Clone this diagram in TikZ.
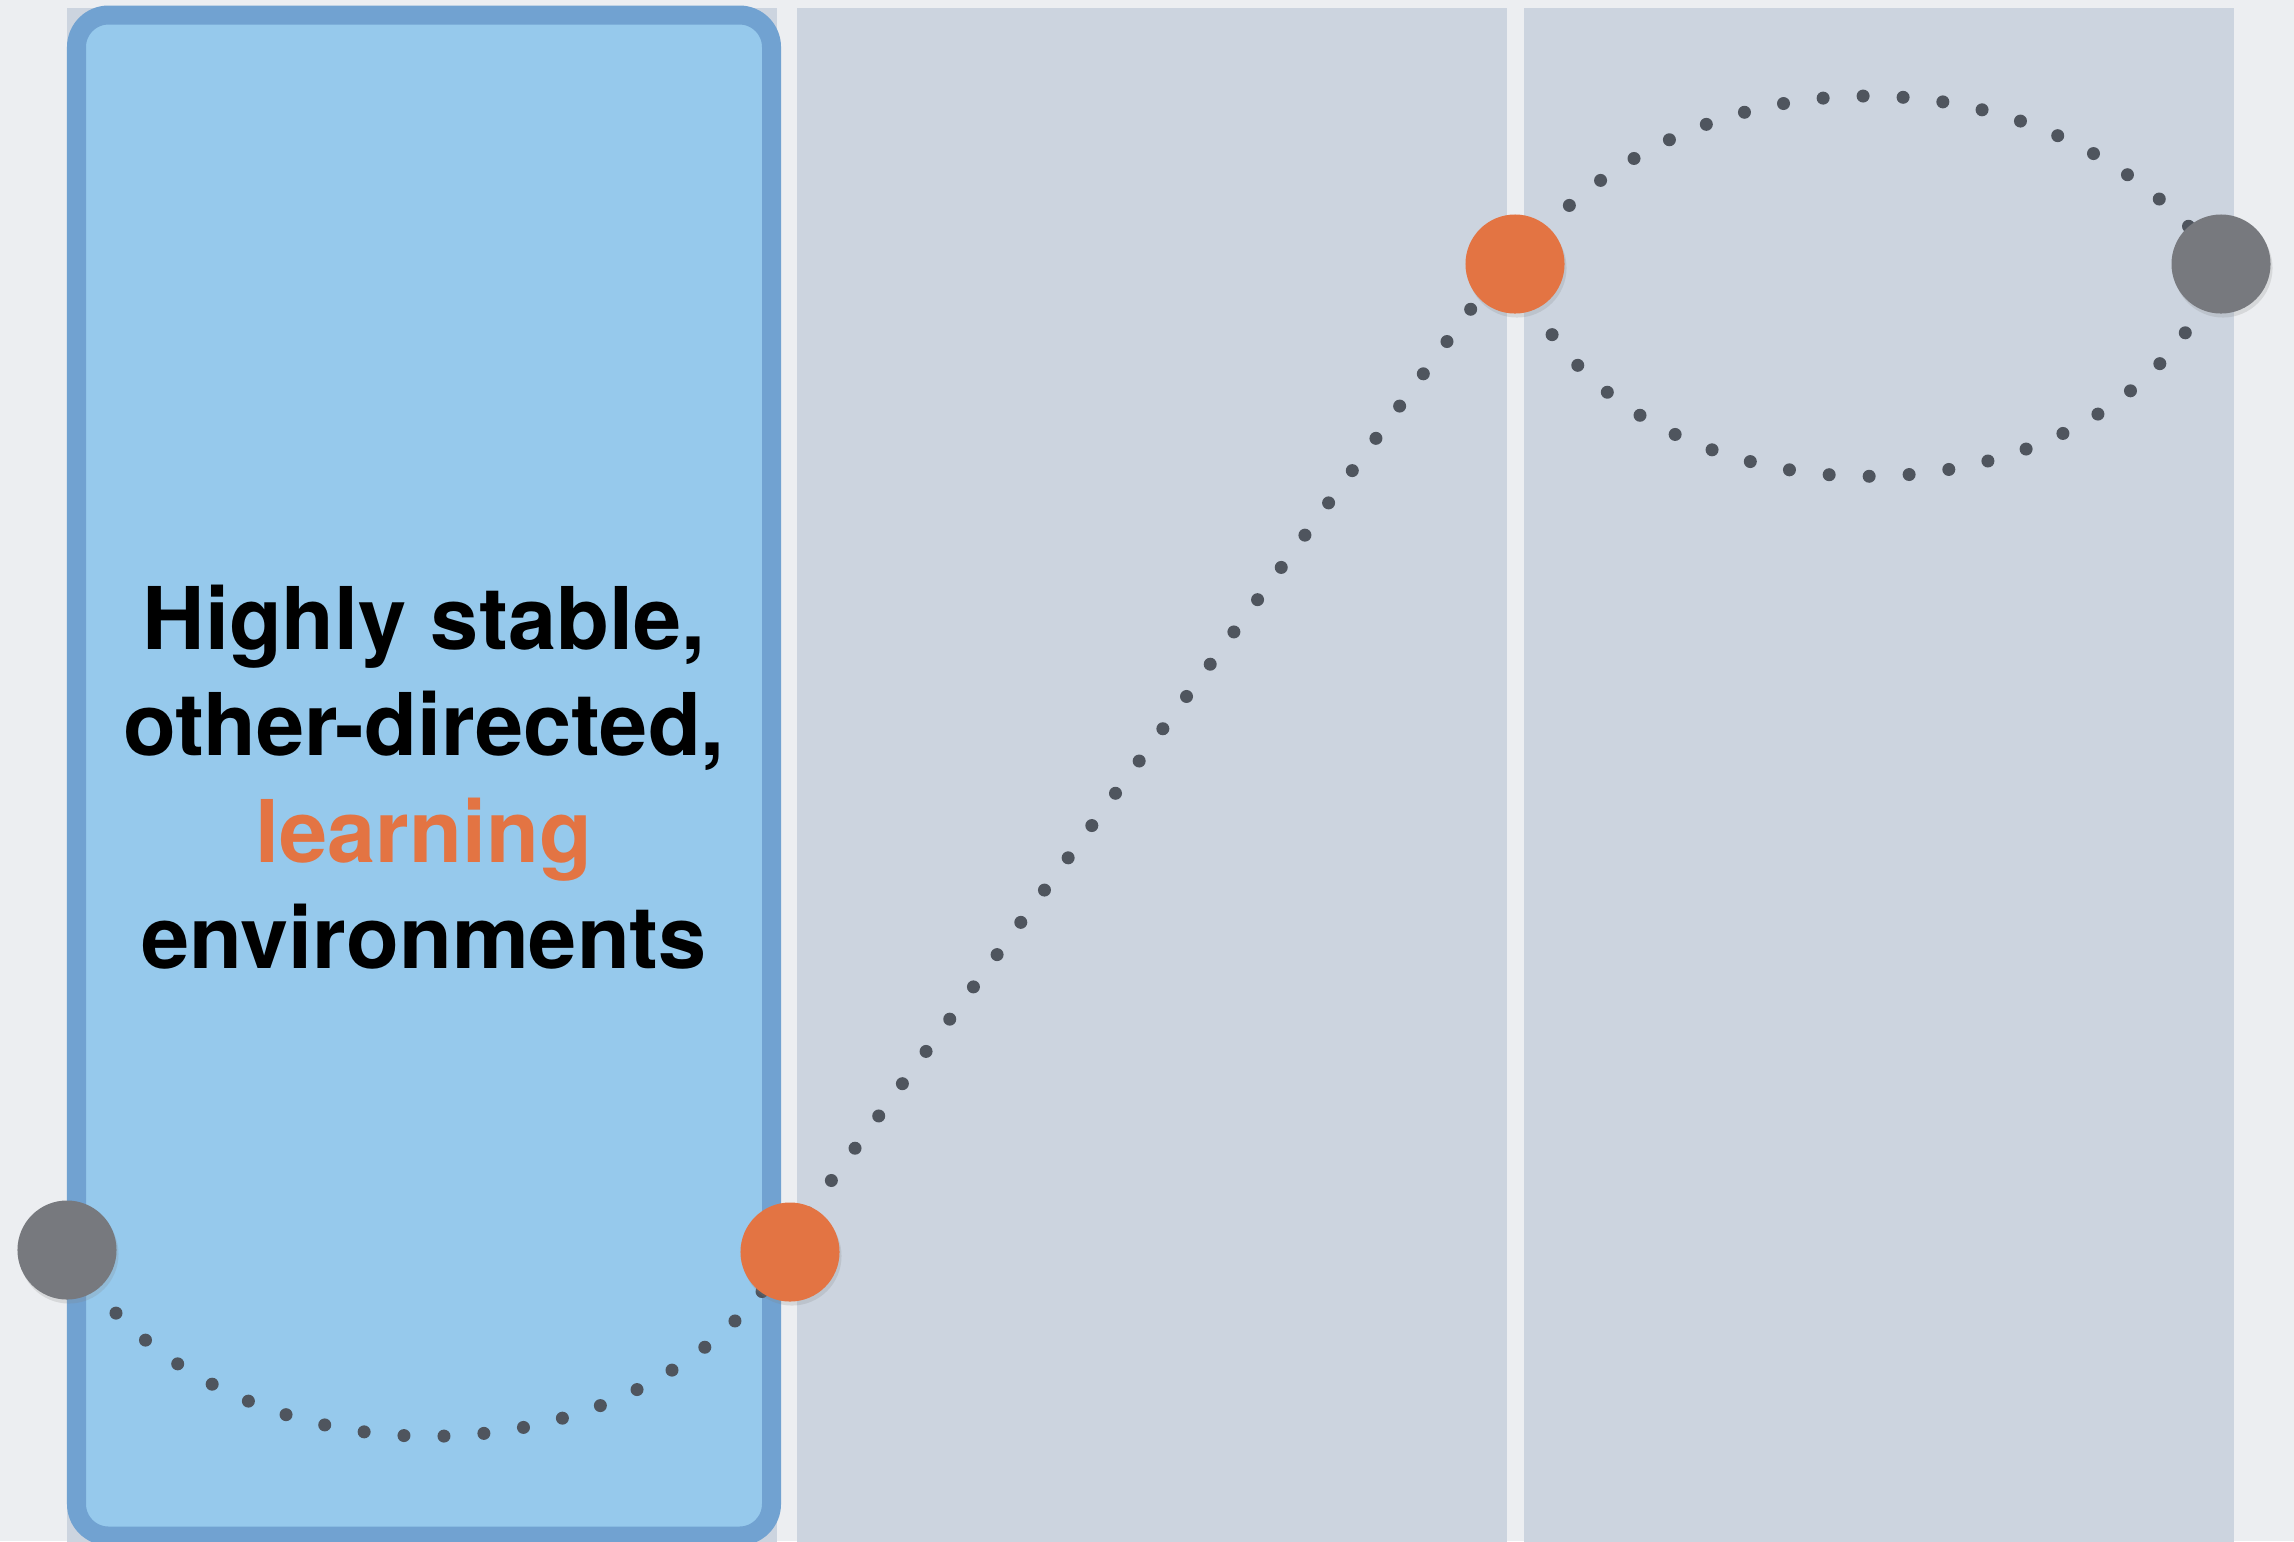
\documentclass[tikz,border=0pt]{standalone}
\usepackage{fontspec}
\setmainfont{TeX Gyre Heros}
\usetikzlibrary{shadows}
\definecolor{pagebg}{RGB}{236,238,241}
\definecolor{panelgray}{RGB}{204,212,223}
\definecolor{boxblue}{RGB}{150,201,236}
\definecolor{boxline}{RGB}{113,162,209}
\definecolor{accent}{RGB}{227,116,67}
\definecolor{stonegray}{RGB}{119,121,126}
\definecolor{dotgray}{RGB}{79,85,94}
\pgfdeclarelayer{back}
\pgfdeclarelayer{trails}
\pgfsetlayers{back,trails,main}

\begin{document}
\begin{tikzpicture}[x=0.01cm,y=-0.01cm,
  spot/.style={circle,minimum size=0.99cm,inner sep=0pt,
    drop shadow={shadow xshift=0.02cm,shadow yshift=-0.04cm,opacity=0.2}},
  trail/.style={draw=dotgray,line width=0.13cm,line cap=round,dash pattern=on 0pt off 0.4cm}]
 \useasboundingbox (0,0) rectangle (2294,1541);
 \begin{pgfonlayer}{back}
  \clip (0,0) rectangle (2294,1541);
  \fill[pagebg] (0,0) rectangle (2294,1541);
  \foreach \x in {67,797,1524} \fill[panelgray] (\x,8) rectangle +(710,1560);
  \draw[draw=boxline,fill=boxblue,line width=0.19cm,rounded corners=0.32cm] (76.5,15) rectangle (771.5,1536);
  \node[align=center,inner sep=0pt,font=\fontsize{24.6pt}{30.3pt}\selectfont\bfseries] (label) at (424,777)
   {Highly stable,\\other-directed,\\\textcolor{accent}{learning}\\environments};
 \end{pgfonlayer}
 % the four stations
 \node[spot,fill=stonegray] (grayL) at (67,1250) {};
 \node[spot,fill=accent] (orangeL) at (790,1252) {};
 \node[spot,fill=accent] (orangeT) at (1515,264) {};
 \node[spot,fill=stonegray] (grayR) at (2221,264) {};
 \begin{pgfonlayer}{trails}
  \draw[trail] (grayL.center) .. controls +(150,247) and +(-150,247) .. (orangeL.center);
  \draw[trail] ([shift={(-6,-7)}]orangeL.center) -- ([shift={(-6,-7)}]orangeT.center);
  \draw[trail] (orangeT.center) .. controls +(170,-224) and +(-170,-224) .. (grayR.center);
  \draw[trail] (orangeT.center) .. controls +(100,283) and +(-100,283) .. (grayR.center);
 \end{pgfonlayer}
\end{tikzpicture}
\end{document}
